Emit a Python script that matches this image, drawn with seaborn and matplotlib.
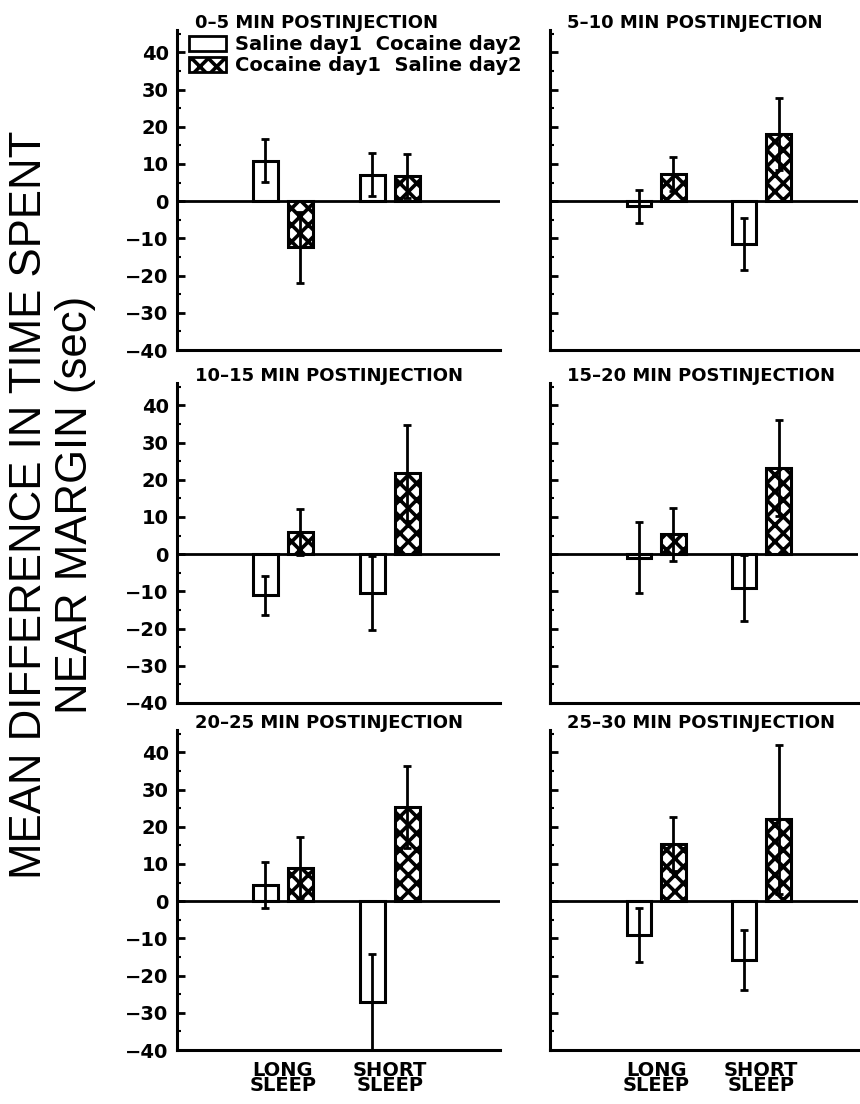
import numpy as np
import pandas as pd
import matplotlib
matplotlib.use("Agg")
import matplotlib.pyplot as plt
from matplotlib.patches import Patch
from matplotlib.ticker import MultipleLocator
import seaborn as sns

# ---------------- data ----------------
titles = ["0–5 MIN POSTINJECTION", "5–10 MIN POSTINJECTION",
          "10–15 MIN POSTINJECTION", "15–20 MIN POSTINJECTION",
          "20–25 MIN POSTINJECTION", "25–30 MIN POSTINJECTION"]
groups = ["LONG\nSLEEP", "SHORT\nSLEEP"]
conditions = ["Saline day1  Cocaine day2", "Cocaine day1  Saline day2"]

# per panel: [LONG, SHORT]
saline_mean = [[10.9, 7.1], [-1.4, -11.4], [-11.1, -10.5],
               [-0.9, -9.1], [4.3, -27.1], [-9.1, -15.8]]
saline_se = [[5.8, 5.8], [4.5, 7.0], [5.3, 10.0],
             [9.6, 8.8], [6.2, 12.8], [7.3, 8.0]]
cocaine_mean = [[-12.4, 6.8], [7.3, 18.0], [6.0, 21.8],
                [5.3, 23.1], [9.0, 25.2], [15.3, 22.0]]
cocaine_se = [[9.5, 6.0], [4.6, 9.6], [6.2, 12.9],
              [7.2, 12.9], [8.2, 11.0], [7.2, 20.0]]
y_ticks = [-40, -30, -20, -10, 0, 10, 20, 30, 40]

# ---------------- style ----------------
sns.set_style("ticks")
plt.rcParams["font.family"] = ["DejaVu Sans"]
plt.rcParams["hatch.linewidth"] = 2.6
plt.rcParams["hatch.color"] = "black"
plt.rcParams["axes.linewidth"] = 2.2
for k in ["text.color", "axes.labelcolor", "xtick.color", "ytick.color", "axes.edgecolor"]:
    plt.rcParams[k] = "black"

fig = plt.figure(figsize=(8.6, 11.04), dpi=100)

H = 1104.0
rows_bottom = [1 - 350 / H, 1 - 703 / H, 1 - 1050 / H]
ax_h = 320 / H
cols_left = [177 / 860, 550 / 860]
cols_w = [323 / 860, 308 / 860]
xlims = [(-0.99, 2.03), (-1.01, 1.92)]

for i, title in enumerate(titles):
    r, c = divmod(i, 2)
    ax = fig.add_axes([cols_left[c], rows_bottom[r], cols_w[c], ax_h])
    df = pd.DataFrame({
        "group": groups + groups,
        "condition": [conditions[0]] * 2 + [conditions[1]] * 2,
        "value": saline_mean[i] + cocaine_mean[i],
    })
    sns.barplot(data=df, x="group", y="value", hue="condition",
                order=groups, hue_order=conditions,
                palette=["white", "white"], edgecolor="black", linewidth=2.2,
                width=0.656, gap=0.29, dodge=True, errorbar=None,
                legend=False, ax=ax, zorder=2)
    for cont, se, hatch in zip(ax.containers, [saline_se[i], cocaine_se[i]], ["", "xx"]):
        xs, ys = [], []
        for p in cont.patches:
            p.set_hatch(hatch)
            xs.append(p.get_x() + p.get_width() / 2)
            ys.append(p.get_y() + p.get_height())
        ax.errorbar(xs, ys, yerr=se, fmt="none", ecolor="black",
                    elinewidth=2, capsize=3, capthick=2, zorder=3)

    ax.axhline(0, color="black", lw=2, zorder=1)
    ax.set_ylim(-40, 46)
    ax.set_xlim(*xlims[c])
    ax.set_yticks(y_ticks)
    ax.yaxis.set_minor_locator(MultipleLocator(5))
    ax.tick_params(axis="y", which="major", direction="in", length=6, width=2,
                   labelsize=14, pad=6)
    ax.tick_params(axis="y", which="minor", direction="in", length=3, width=1.5)
    ax.tick_params(axis="x", length=0)
    for lab in ax.get_yticklabels():
        lab.set_fontweight("bold")
    if c == 1:
        ax.tick_params(axis="y", labelleft=False)
    sns.despine(ax=ax)
    ax.set_xlabel("")
    ax.set_ylabel("")
    if r < 2:
        ax.set_xticklabels([])
    else:
        ax.set_xticks(range(len(groups)))
        ax.set_xticklabels(groups, fontsize=14, fontweight="bold",
                           linespacing=0.72)
        ax.tick_params(axis="x", pad=8)
    ax.text(0.055, 1 + 7 / 320, title, transform=ax.transAxes,
            fontsize=13, fontweight="bold", ha="left", va="center")

    if i == 0:
        handles = [Patch(facecolor="white", edgecolor="black", linewidth=2),
                   Patch(facecolor="white", edgecolor="black", linewidth=2, hatch="xx")]
        ax.legend(handles, conditions, loc="upper left",
                  bbox_to_anchor=(0.0, 1.02), frameon=False,
                  prop={"weight": "bold", "size": 14},
                  handlelength=1.9, handleheight=0.8, handletextpad=0.5,
                  labelspacing=0.1, borderaxespad=0.2)

fig.text(0.061, 0.543, "MEAN DIFFERENCE IN TIME SPENT\nNEAR MARGIN (sec)",
         rotation=90, ha="center", va="center", multialignment="center",
         fontsize=31.5, linespacing=1.15,
         family=["Liberation Sans", "DejaVu Sans"])

fig.savefig("out.png", dpi=100)
